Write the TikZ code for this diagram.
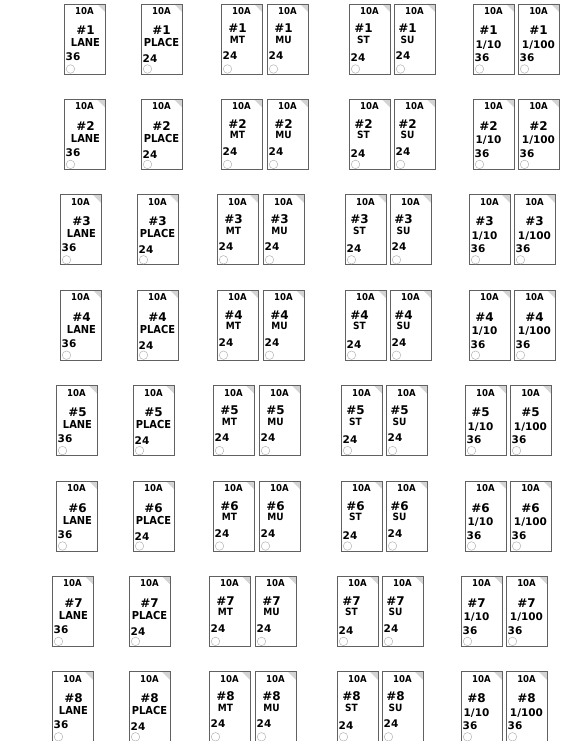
\documentclass[tikz,border=0pt]{standalone}
\usepackage{fontspec}
\newfontfamily\cardfont[FakeStretch=0.9]{DejaVu Sans}
\newfontfamily\cardwide{DejaVu Sans}
\newcommand\cardsl{/}
\tikzset{
  x=1pt, y=-1pt,
  cardarea/.style={minimum width=41pt, minimum height=70pt, inner sep=0pt, outer sep=0pt, anchor=north west},
  cardframe/.style={draw=black!62, line width=0.8pt},
  foldfill/.style={fill=black!17},
  holemark/.style={circle, draw=black!30, line width=0.5pt, minimum size=8.5pt, inner sep=0pt},
  cardtxt/.style={inner sep=0pt, anchor=base, text=black},
}
\begin{document}
\begin{tikzpicture}
\useasboundingbox (0,0) rectangle (560,741);
\foreach \r [evaluate=\r as \ty using {4+95.4*(\r-1)}, evaluate=\r as \sx using {-4*int((\r-1)/2)}] in {1,...,8}{
  \foreach \cx/\word/\num/\dx/\wb/\nb/\ws/\hb/\wf [count=\i] in {
      64/LANE/36/1/43/57/11/31/\cardfont,
      141/PLACE/24/0/43/59/11/31/\cardfont,
      221/MT/24/-4/39.5/56/10/29/\cardfont,
      267/MU/24/-4/39.5/56/10/29/\cardfont,
      349/ST/24/-6/39.5/58/10/29/\cardfont,
      394/SU/24/-7/39.5/56/10/29/\cardfont,
      473/1\cardsl10/36/-5/44.5/58/10.5/31/\cardwide,
      518/1\cardsl100/36/0/44.5/58/10.5/31/\cardwide}{
    \node[cardarea] (card-\r-\i) at ({\cx+\sx},{\ty}) {};
    \fill[foldfill] ([xshift=-8pt]card-\r-\i.north east) -- (card-\r-\i.north east) -- ([yshift=-8pt]card-\r-\i.north east) -- cycle;
    \draw[cardframe] (card-\r-\i.north west) rectangle (card-\r-\i.south east);
    \node[holemark] (hole-\r-\i) at ({\cx+\sx+6.5},{\ty+65}) {};
    \node[cardtxt, font={\cardfont\bfseries\fontsize{9.5}{9.5}\selectfont}] (amp-\r-\i) at ({\cx+\sx+20.5},{\ty+10.5}) {10A};
    \node[cardtxt, font={\cardwide\bfseries\fontsize{12}{12}\selectfont}] (num-\r-\i) at ({\cx+\sx+20.5+\dx},{\ty+\hb}) {\#\r};
    \node[cardtxt, font={\wf\bfseries\fontsize{\ws}{\ws}\selectfont}] (word-\r-\i) at ({\cx+\sx+20.5+\dx},{\ty+\wb}) {\word};
    \node[cardtxt, anchor=base west, font={\cardwide\bfseries\fontsize{10.5}{10.5}\selectfont}] (qty-\r-\i) at ({\cx+\sx+1.5},{\ty+\nb}) {\num};
  }
}
\end{tikzpicture}
\end{document}
